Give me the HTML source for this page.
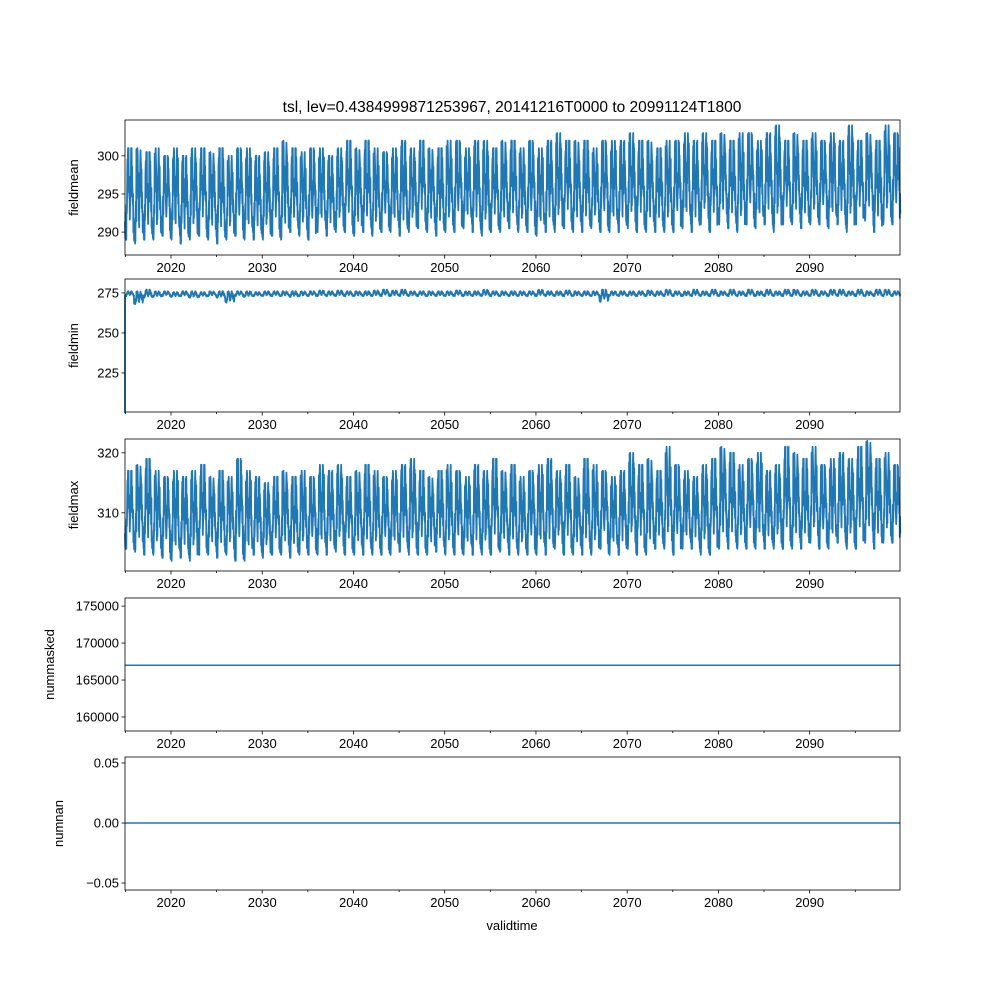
<!DOCTYPE html>
<html><head><meta charset="utf-8"><style>
body{margin:0;background:#fff}
svg text{font-family:"Liberation Sans",sans-serif;font-size:13px;fill:#000}
</style></head><body>
<svg id="fig" width="1000" height="1000" xmlns="http://www.w3.org/2000/svg">
<rect width="1000" height="1000" fill="#fff"/>
<text x="512" y="112" text-anchor="middle" style="font-size:15.5px">tsl, lev=0.4384999871253967, 20141216T0000 to 20991124T1800</text>
<text x="512" y="930" text-anchor="middle">validtime</text>
</svg>
<script>
const years=[];for(let y=2015;y<=2099;y++)years.push(y);
const meanMax=[301,301,300.5,301,300,301,300,301,301,300.5,301,300,301,301,300,300.5,301,302,301,300.5,301,301,300,301,302,301,302,301,300.5,301,302,301,302,301,301,302,302,301,302,302,301,302,302,301,302,301,302,303,302,302,302,301,302,302,302,303,302,302,301,302,302,303,302,303,302,303,302,303,303,302,303,304,302,303,302,303,302,303,302,304,302,303,302,304,303];
const meanMin=[289,288.5,289,289,289.5,289,288.5,289,289.5,289,288.5,289,289.5,289,289,289,289.5,289,290,289.5,289,290,289.5,290,290,289.5,290,289.5,290,290,289.5,290,290.5,290,289.5,290,290,290.5,290,289.5,290,290,290.5,290,290,289.5,290,290,290.5,290,290,290.5,290,290,290,290.5,290,290,290,290,290,290.5,290,291,290,291,290.5,290,291,290.5,291,290,291,291,290.5,291,291,290.5,291,290,291,291.5,290,291,291];
const minMax=[276,276,277,276,276,275.5,276,276,275.5,276,276,276,276,276,275.5,276,276,276,276,276,276,276.5,276,276.5,276,276,276,276.5,277,276.5,277,276,276,276,276,276,276.5,276,276,277,276,276,276,276,276,277,276,276,276.5,276,276,276,277,276,276,276,276,276.5,276,277,276,276,277,276,277,276,277,276,277,276,277,276,277,277,276,277,276,277,277,276,277,276,277,277,276];
const minMin=[200,268,272,272.5,273,272.5,273,272,272.5,273,272,269,273,272.5,273,273,273,273,272.5,273,273,273,273,273,273,273,273,273,273,273,273,273,273,273,273,273,273,273,273,273,273,273,273,273,273,273,273,273,273,273,273,273,269.5,273,273,273,273,273,273,273,273,273,273,273,273,273,273,273,273,273,273,273,273,273,273,273,273,273,273,273,273,273,273,273,273];
const maxMax=[317,318,319,317,316,317,316,317,318,316,317,316,319,317,316,315,316,317,316,317,316,318,317,318,316,317,318,317,316,317,318,319,317,316,317,318,317,316,318,317,319,317,318,316,317,318,319,317,318,316,319,318,317,316,317,320,318,319,317,321,318,317,316,318,319,321,320,318,319,320,317,318,321,320,319,321,318,319,320,319,321,322,319,320,318];
const maxMin=[304,303.5,303,303,302.5,302,302.5,302,303,303,302.5,303,302,302,303,302.5,303,303,302.5,303,303,303,303,303.5,303,303,303,303,303,303,303.5,303,303,303,303.5,303,303,303,303,303,303,303.5,303,303,303,303,303,304,303,303,303,303,304,303,303,304,303,303,304,304,303,304,304,303,303,304,304,304,304,304,304,304,304,304,304,305,304,304,305,304,304,305,304,305,305];
const seasonShape=[0.15,0.0,0.35,0.85,1.0,0.6,0.3,0.55,0.95,0.75,0.45,0.2];
const jitter=[0.05,-0.12,0.14,-0.06,0.09,-0.13,0.03,-0.08];
const maskedValue=167000, nanValue=0;

const NS="http://www.w3.org/2000/svg",svg=document.getElementById('fig');
const X0=125,X1=900,T0=2014.96,T1=2099.9;
const xs=t=>X0+(t-T0)/(T1-T0)*(X1-X0);
function mk(tag,attrs,parent){const e=document.createElementNS(NS,tag);for(const k in attrs)e.setAttribute(k,attrs[k]);(parent||svg).appendChild(e);return e;}
const panels=[
 {name:'fieldmean',top:120,bot:255,lo:287,hi:304.7,ticks:[290,295,300]},
 {name:'fieldmin',top:279,bot:412,lo:200.6,hi:283.7,ticks:[225,250,275]},
 {name:'fieldmax',top:439,bot:571,lo:300.3,hi:322.3,ticks:[310,320]},
 {name:'nummasked',top:598,bot:731,lo:158100,hi:176100,ticks:[160000,165000,170000,175000]},
 {name:'numnan',top:757,bot:890,lo:-0.0558,hi:0.055,ticks:[-0.05,0,0.05],fmt:v=>v===0?'0.00':(v<0?'\u22120.05':'0.05')}
];
function series(mx,mn){const pts=[];for(let i=0;i<years.length;i++){for(let m=0;m<12;m++){for(let k=0;k<3;k++){const s=Math.min(1,Math.max(0,seasonShape[m]+jitter[(i+m*3+k*5)%8]));pts.push([years[i]-0.04+(m+k/3)/12,mn[i]+(mx[i]-mn[i])*s]);}}}return pts;}
panels.forEach((p,pi)=>{
 const g=mk('g',{});
 
 
 const ys=v=>p.bot-(v-p.lo)/(p.hi-p.lo)*(p.bot-p.top);
 let pts;
 if(pi===0)pts=series(meanMax,meanMin);
 else if(pi===1){pts=series(minMax,minMin.map((v,i)=>i===0?273:v));pts.unshift([T0,minMin[0]]);}
 else if(pi===2)pts=series(maxMax,maxMin);
 else {const v=pi===3?maskedValue:nanValue;pts=[[T0,v],[T1,v]];}
 const path=mk('polyline',{points:pts.map(q=>xs(q[0]).toFixed(1)+','+ys(q[1]).toFixed(1)).join(' '),fill:'none',stroke:'#1f77b4','stroke-width':pi<3?1.8:1.5,'stroke-linejoin':'round'},g);
 
 
 mk('rect',{x:X0,y:p.top,width:X1-X0,height:p.bot-p.top,fill:'none',stroke:'#000','stroke-width':0.8},g);
 p.ticks.forEach(t=>{const y=ys(t);mk('line',{x1:X0-3.5,x2:X0,y1:y,y2:y,stroke:'#000','stroke-width':0.8},g);
  const tx=mk('text',{x:X0-6,y:y+4.5,'text-anchor':'end'},g);tx.textContent=p.fmt?p.fmt(t):t;
  
  });
 for(let yr=2015;yr<=2095;yr+=5){const x=xs(yr);const major=yr%10===0;
  mk('line',{x1:x,x2:x,y1:p.bot,y2:p.bot+(major?3.5:2),stroke:'#000','stroke-width':0.8},g);
  if(major){const tx=mk('text',{x:x,y:p.bot+17,'text-anchor':'middle'},g);tx.textContent=yr;
   
   }}
 const lab=mk('text',{x:0,y:0,'text-anchor':'middle',transform:`translate(${pi===3?54:pi===4?63:78},${(p.top+p.bot)/2}) rotate(-90)`},g);
 lab.textContent=p.name;
 
 
});
</script>
</body></html>
